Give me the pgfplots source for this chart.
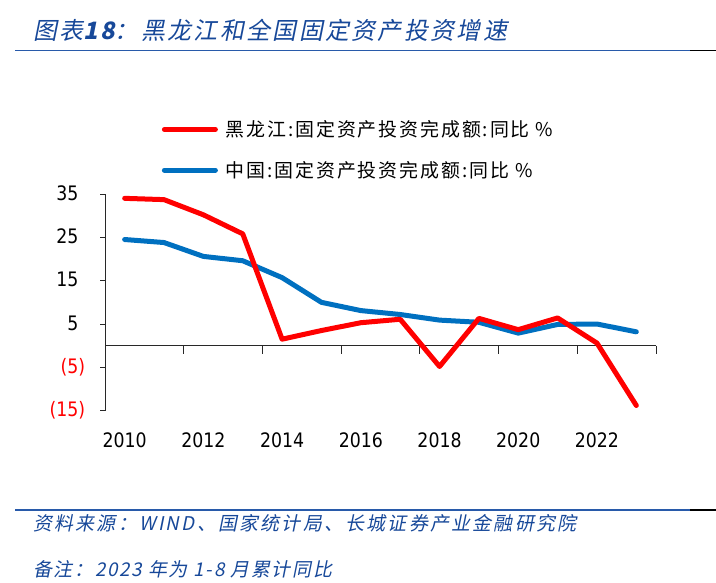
\documentclass[border=0pt]{standalone}
\usepackage{pgfplots}
\pgfplotsset{compat=1.18}
\usepackage{fontspec}
\setmainfont{DejaVu Sans}[FakeStretch=0.87]
\newfontfamily\cjk{Noto Sans CJK SC}
\newfontfamily\cjkit{Noto Sans CJK SC}[FakeSlant=0.2]
\definecolor{hlj}{RGB}{255,0,0}
\definecolor{cn}{RGB}{0,112,192}
\definecolor{ttl}{RGB}{23,72,153}
\definecolor{rulec}{RGB}{40,90,170}
\definecolor{axc}{RGB}{40,40,40}

\begin{document}
\begin{tikzpicture}
\path[use as bounding box] (0bp,0bp) rectangle (716bp,583bp);

% title and rules
\node[anchor=base west, inner sep=0pt, text=ttl, font=\cjkit\fontsize{24}{28}\selectfont\addfontfeature{LetterSpace=10}]
  at (33bp,543.5bp) {图表\textbf{18}：黑龙江和全国固定资产投资增速};
\draw[rulec, line width=1.3bp] (15bp,532.3bp) -- (690bp,532.3bp);
\draw[black, line width=1.3bp] (690bp,532.3bp) -- (716bp,532.3bp);
\draw[rulec, line width=1.3bp] (15bp,73bp) -- (690bp,73bp);
\draw[black, line width=1.3bp] (690bp,73bp) -- (716bp,73bp);

\begin{axis}[
    at={(105bp,172.3bp)}, anchor=south west,
    scale only axis, width=551bp, height=216.7bp,
    xmin=2009.5, xmax=2023.5,
    ymin=-15, ymax=35,
    axis x line=bottom, axis y line=left,
    x axis line style={draw=none},
    y axis line style={-, axc, line width=0.8bp},
    xtick={2010,2012,...,2022},
    xticklabels={2010,2012,2014,2016,2018,2020,2022},
    x tick style={draw=none},
    ytick={-15,-5,5,15,25,35},
    yticklabels={\textcolor{red}{(15)},\textcolor{red}{(5)},5\phantom{)},15\phantom{)},25\phantom{)},35\phantom{)}},
    y tick style={axc, line width=0.8bp},
    tick align=outside, major tick length=5bp,
    tick label style={font=\fontsize{20}{24}\selectfont},
    xticklabel style={anchor=base, yshift=-31.6bp, inner sep=0pt},
    yticklabel style={anchor=east, xshift=-14.7bp, inner sep=0pt},
    legend style={at={(0.1029,1.069)}, anchor=south west, draw=none, fill=none,
        inner sep=0pt, row sep=23bp,
        font=\cjk\fontsize{19}{22}\selectfont\addfontfeature{LetterSpace=10},
        nodes={inner sep=0pt, anchor=west}},
    legend cell align=left,
    legend image code/.code={\draw[#1, line cap=round] (0bp,0bp) -- (51bp,0bp);},
    reverse legend,
    clip=false,
]
\draw[axc, line width=0.8bp] (axis cs:2009.5,0) -- (axis cs:2023.5,0);
\pgfplotsinvokeforeach{2011.5,2013.5,2015.5,2017.5,2019.5,2021.5,2023.5}{
    \draw[axc, line width=0.8bp] (axis cs:#1,0) -- (axis cs:#1,-1.85);
}
\addplot[cn, line width=5bp, line join=round, line cap=round] coordinates {
    (2010,24.5) (2011,23.8) (2012,20.6) (2013,19.6) (2014,15.7) (2015,10.0) (2016,8.1)
    (2017,7.2) (2018,5.9) (2019,5.4) (2020,2.9) (2021,4.9) (2022,5.0) (2023,3.2)
};
\addlegendentry{\hspace*{8bp}中国:固定资产投资完成额:同比 \%}
\addplot[hlj, line width=5bp, line join=round, line cap=round] coordinates {
    (2010,34.0) (2011,33.7) (2012,30.2) (2013,25.8) (2014,1.5) (2015,3.5) (2016,5.3)
    (2017,6.1) (2018,-4.8) (2019,6.3) (2020,3.7) (2021,6.4) (2022,0.6) (2023,-13.8)
};
\addlegendentry{\hspace*{8bp}黑龙江:固定资产投资完成额:同比 \%}
\end{axis}

% footer
\node[anchor=base west, inner sep=0pt, text=ttl, font=\cjkit\fontsize{19}{22}\selectfont\addfontfeature{LetterSpace=12}]
  at (33bp,52.5bp) {资料来源：WIND、国家统计局、长城证券产业金融研究院};
\node[anchor=base west, inner sep=0pt, text=ttl, font=\cjkit\fontsize{19}{22}\selectfont\addfontfeature{LetterSpace=9}]
  at (33bp,6.5bp) {备注：2023 年为 1-8 月累计同比};
\end{tikzpicture}
\end{document}
